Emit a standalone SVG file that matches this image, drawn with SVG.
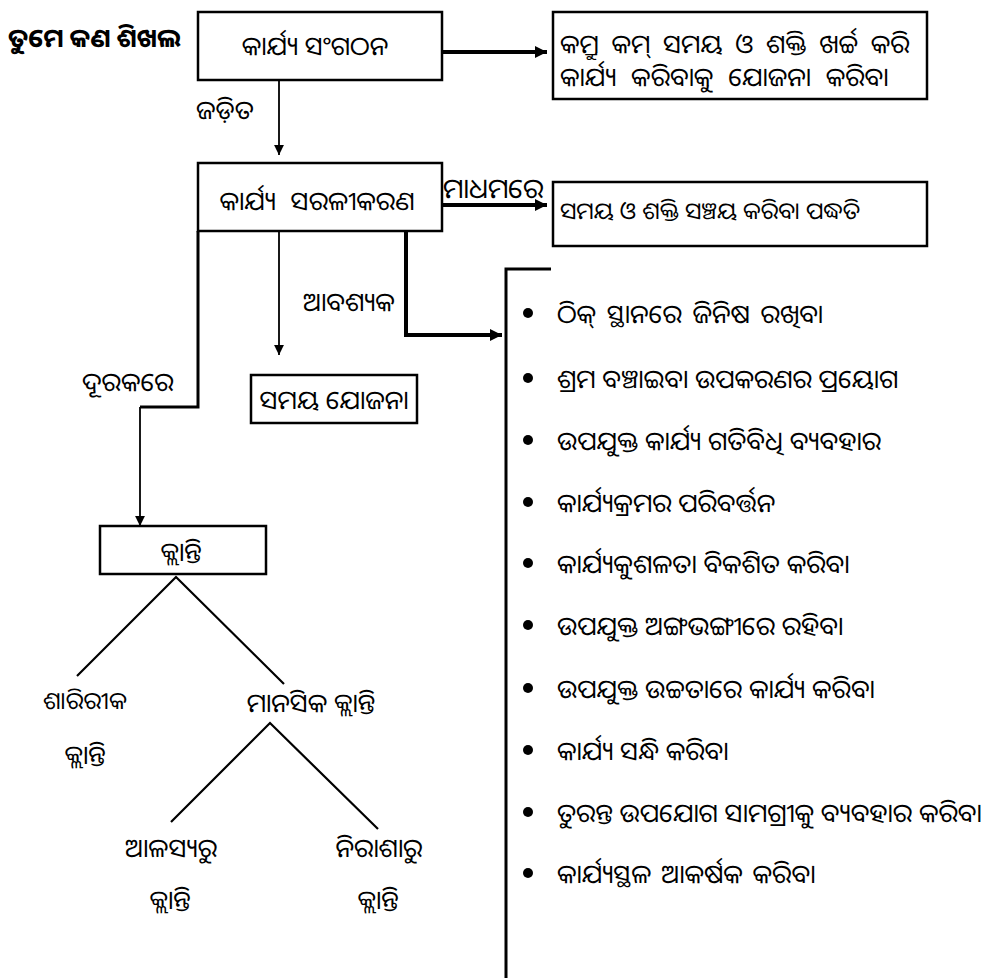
<svg xmlns="http://www.w3.org/2000/svg" width="992" height="978" viewBox="0 0 992 978">
<style>
text{font-family:"Noto Sans Oriya","Noto Sans","DejaVu Sans","Liberation Sans",sans-serif;font-size:26px;fill:#000}
.b{font-weight:bold}
.m{text-anchor:middle}
.box{fill:#fff;stroke:#000;stroke-width:2.5}
.thin{fill:none;stroke:#000;stroke-width:1.8}
.med{fill:none;stroke:#000;stroke-width:3}
.thick{fill:none;stroke:#000;stroke-width:4}
.tr{fill:none;stroke:#000;stroke-width:2.2}
</style>
<defs>
<marker id="ah" viewBox="0 0 10 10" refX="10" refY="5" markerWidth="6.5" markerHeight="5.5" markerUnits="strokeWidth" orient="auto"><path d="M0,0 L10,5 L0,10 Z" fill="#000"/></marker>
<marker id="ahb" viewBox="0 0 10 10" refX="10" refY="5" markerWidth="3" markerHeight="5.5" markerUnits="strokeWidth" orient="auto"><path d="M0,0 L10,5 L0,10 Z" fill="#000"/></marker>
</defs>
<rect width="992" height="978" fill="#fff"/>
<text id="title" class="b" x="8" y="47">ତୁମେ କଣ ଶିଖଲ</text>
<g id="connectors">
<line class="thick" x1="442" y1="52" x2="547" y2="52" marker-end="url(#ahb)"/>
<line class="thin" x1="279" y1="80" x2="279" y2="155" marker-end="url(#ah)"/>
<line class="thick" x1="442" y1="205" x2="547" y2="205" marker-end="url(#ahb)"/>
<line class="thin" x1="279" y1="231" x2="279" y2="355" marker-end="url(#ah)"/>
<path class="thick" d="M406,231 V335 H502" marker-end="url(#ahb)"/>
<path class="med" d="M198,231 V407 H140"/>
<line class="thin" x1="140" y1="407" x2="140" y2="526" marker-end="url(#ah)"/>
<polyline class="tr" points="77,676 176,577 284,684"/>
<polyline class="tr" points="171,822 270,723 378,829"/>
<text x="196" y="119">ଜଡ଼ିତ</text>
<text x="443" y="198" style="font-size:27.5px">ମାଧମରେ</text>
<text x="303" y="311">ଆବଶ୍ୟକ</text>
<text x="82" y="391">ଦୂରକରେ</text>
</g>
<g id="n-sangathan"><rect class="box" x="198" y="12" width="244" height="68"/><text class="m" x="315" y="55">କାର୍ଯ୍ୟ ସଂଗଠନ</text></g>
<g id="n-plan"><rect class="box" x="553" y="12" width="374" height="87"/><text x="560" y="53" word-spacing="6">କମ୍ରୁ କମ୍ ସମୟ ଓ ଶକ୍ତି ଖର୍ଚ୍ଚ କରି</text><text x="560" y="86" word-spacing="8">କାର୍ଯ୍ୟ କରିବାକୁ ଯୋଜନା କରିବା</text></g>
<g id="n-saral"><rect class="box" x="198" y="163" width="244" height="68"/><text class="m" x="317" y="210" word-spacing="8">କାର୍ଯ୍ୟ ସରଳୀକରଣ</text></g>
<g id="n-paddhati"><rect class="box" x="553" y="182" width="374" height="64"/><text x="560" y="219" style="font-size:23.5px">ସମୟ ଓ ଶକ୍ତି ସଞ୍ଚୟ କରିବା ପଦ୍ଧତି</text></g>
<g id="n-samay"><rect class="box" x="251" y="375" width="166" height="48"/><text class="m" x="334" y="409">ସମୟ ଯୋଜନା</text></g>
<g id="n-klanti"><rect class="box" x="100" y="526" width="166" height="48"/><text class="m" x="181" y="561">କ୍ଲାନ୍ତି</text></g>
<g id="n-sharirik"><text class="m" x="85" y="709" style="font-size:24px">ଶାରିରୀକ</text><text class="m" x="85" y="764">କ୍ଲାନ୍ତି</text></g>
<g id="n-manasik"><text class="m" x="311" y="712">ମାନସିକ କ୍ଲାନ୍ତି</text></g>
<g id="n-alasya"><text class="m" x="171" y="857">ଆଳସ୍ୟରୁ</text><text class="m" x="170" y="909">କ୍ଲାନ୍ତି</text></g>
<g id="n-nirasha"><text class="m" x="379" y="857">ନିରାଶାରୁ</text><text class="m" x="378" y="909">କ୍ଲାନ୍ତି</text></g>
<g id="n-list">
<path fill="none" stroke="#000" stroke-width="3" d="M551,269 H506 V978"/>
<g fill="#000">
<circle cx="528" cy="313" r="5"/><circle cx="528" cy="378" r="5"/><circle cx="528" cy="440" r="5"/><circle cx="528" cy="502" r="5"/><circle cx="528" cy="563" r="5"/><circle cx="528" cy="625" r="5"/><circle cx="528" cy="688" r="5"/><circle cx="528" cy="750" r="5"/><circle cx="528" cy="812" r="5"/><circle cx="528" cy="873" r="5"/>
</g>
<text x="557" y="323" word-spacing="4">ଠିକ୍ ସ୍ଥାନରେ ଜିନିଷ ରଖିବା</text>
<text x="557" y="388">ଶ୍ରମ ବଞ୍ଚାଇବା ଉପକରଣର ପ୍ରୟୋଗ</text>
<text x="557" y="450">ଉପଯୁକ୍ତ କାର୍ଯ୍ୟ ଗତିବିଧି ବ୍ୟବହାର</text>
<text x="557" y="512">କାର୍ଯ୍ୟକ୍ରମର ପରିବର୍ତ୍ତନ</text>
<text x="557" y="573">କାର୍ଯ୍ୟକୁଶଳତା ବିକଶିତ କରିବା</text>
<text x="557" y="635">ଉପଯୁକ୍ତ ଅଙ୍ଗଭଙ୍ଗୀରେ ରହିବା</text>
<text x="557" y="698">ଉପଯୁକ୍ତ ଉଚ୍ଚତାରେ କାର୍ଯ୍ୟ କରିବା</text>
<text x="557" y="760">କାର୍ଯ୍ୟ ସନ୍ଧି କରିବା</text>
<text x="557" y="822">ତୁରନ୍ତ ଉପଯୋଗ ସାମଗ୍ରୀକୁ ବ୍ୟବହାର କରିବା</text>
<text x="557" y="883" word-spacing="3">କାର୍ଯ୍ୟସ୍ଥଳ ଆକର୍ଷକ କରିବା</text>
</g>
</svg>
